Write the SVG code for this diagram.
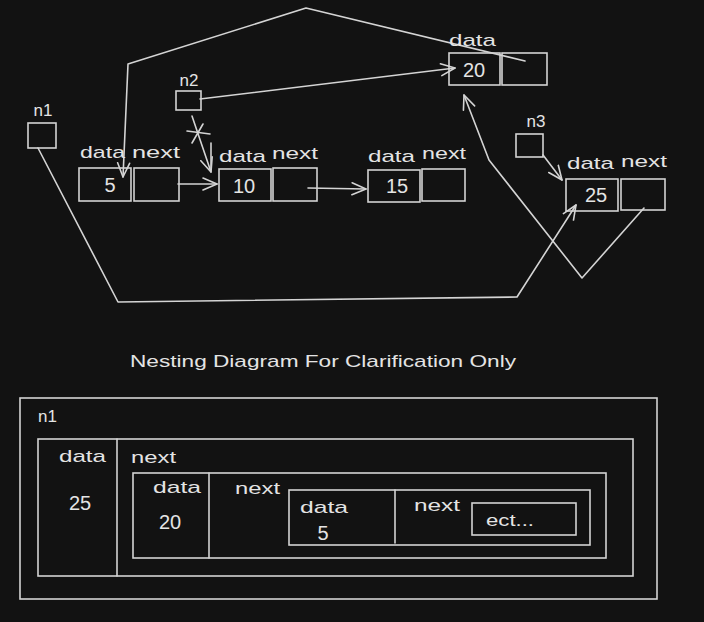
<svg xmlns="http://www.w3.org/2000/svg" width="704" height="622" viewBox="0 0 704 622">
<style>
.bg{fill:#121212}
.box{fill:none;stroke:#d4d4d4;stroke-width:1.6}
.ln{fill:none;stroke:#d4d4d4;stroke-width:1.6;stroke-linejoin:round;stroke-linecap:round}
.t{font-family:"Liberation Sans","DejaVu Sans",sans-serif;font-size:17px;fill:#e4e4e4}
.n{font-family:"Liberation Sans","DejaVu Sans",sans-serif;font-size:17px;fill:#e4e4e4;text-anchor:middle}
.v{font-family:"Liberation Sans","DejaVu Sans",sans-serif;font-size:20px;fill:#e4e4e4;text-anchor:middle}
</style>
<defs>
<marker id="arr" viewBox="0 0 16 16" refX="15" refY="8" markerWidth="16" markerHeight="16" markerUnits="userSpaceOnUse" orient="auto">
<path d="M1,2 L15,8 L1,14" fill="none" stroke="#d4d4d4" stroke-width="1.6" stroke-linecap="round" stroke-linejoin="round"/>
</marker>
</defs>
<rect class="bg" x="0" y="0" width="704" height="622"/>

<g id="connectors">
<line class="ln" x1="178" y1="184" x2="217" y2="184" marker-end="url(#arr)"/>
<line class="ln" x1="308" y1="188" x2="366" y2="189" marker-end="url(#arr)"/>
<line class="ln" x1="200" y1="99" x2="455" y2="68" marker-end="url(#arr)"/>
<line class="ln" x1="192" y1="116" x2="211" y2="172" marker-end="url(#arr)"/>
<line class="ln" x1="211" y1="143" x2="211" y2="170"/>
<line class="ln" x1="187" y1="131" x2="210" y2="134"/>
<line class="ln" x1="192" y1="143" x2="203" y2="124"/>
<polyline class="ln" points="525,61 306,8 128,64 123,177" marker-end="url(#arr)"/>
<polyline class="ln" points="38,148 118,302 517,297 576,205" marker-end="url(#arr)"/>
<polyline class="ln" points="644,208 582,278 489,160 464,95" marker-end="url(#arr)"/>
<line class="ln" x1="543" y1="155" x2="562" y2="180" marker-end="url(#arr)"/>
</g>

<g id="n1">
<rect class="box" x="28" y="123" width="28" height="25"/>
<text class="n" x="43" y="116">n1</text>
</g>
<g id="n2">
<rect class="box" x="176" y="91" width="25" height="19"/>
<text class="n" x="189" y="86">n2</text>
</g>
<g id="n3">
<rect class="box" x="516" y="134" width="27" height="23"/>
<text class="n" x="536" y="127">n3</text>
</g>

<g id="node5">
<text class="t" x="80" y="158" textLength="45" lengthAdjust="spacingAndGlyphs">data</text>
<text class="t" x="132" y="158" textLength="48" lengthAdjust="spacingAndGlyphs">next</text>
<rect class="box" x="79" y="168" width="52" height="33"/>
<rect class="box" x="134" y="168" width="45" height="33"/>
<text class="v" x="110" y="192">5</text>
</g>
<g id="node10">
<text class="t" x="219" y="162" textLength="47" lengthAdjust="spacingAndGlyphs">data</text>
<text class="t" x="272" y="159" textLength="46" lengthAdjust="spacingAndGlyphs">next</text>
<rect class="box" x="219" y="169" width="52" height="32"/>
<rect class="box" x="273" y="168" width="44" height="33"/>
<text class="v" x="244" y="193">10</text>
</g>
<g id="node15">
<text class="t" x="368" y="162" textLength="47" lengthAdjust="spacingAndGlyphs">data</text>
<text class="t" x="422" y="159" textLength="44" lengthAdjust="spacingAndGlyphs">next</text>
<rect class="box" x="368" y="170" width="52" height="32"/>
<rect class="box" x="422" y="169" width="43" height="32"/>
<text class="v" x="397" y="193">15</text>
</g>
<g id="node20">
<text class="t" x="449" y="46" textLength="47" lengthAdjust="spacingAndGlyphs">data</text>
<rect class="box" x="449" y="53" width="51" height="32"/>
<rect class="box" x="502" y="53" width="45" height="32"/>
<text class="v" x="474" y="77">20</text>
</g>
<g id="node25">
<text class="t" x="567" y="169" textLength="47" lengthAdjust="spacingAndGlyphs">data</text>
<text class="t" x="621" y="167" textLength="46" lengthAdjust="spacingAndGlyphs">next</text>
<rect class="box" x="566" y="179" width="52" height="32"/>
<rect class="box" x="621" y="179" width="44" height="31"/>
<text class="v" x="596" y="202">25</text>
</g>

<text id="title" class="t" x="130" y="367" font-size="19" textLength="386" lengthAdjust="spacingAndGlyphs">Nesting Diagram For Clarification Only</text>

<g id="nest-n1">
<rect class="box" x="20" y="398" width="637" height="201"/>
<text class="t" x="38" y="422">n1</text>
</g>
<g id="nest-25">
<rect class="box" x="38" y="439" width="595" height="137"/>
<line class="ln" x1="117" y1="439" x2="117" y2="576"/>
<text class="t" x="59" y="462" textLength="47" lengthAdjust="spacingAndGlyphs">data</text>
<text class="v" x="80" y="510">25</text>
<text class="t" x="131" y="463" textLength="45" lengthAdjust="spacingAndGlyphs">next</text>
</g>
<g id="nest-20">
<rect class="box" x="133" y="473" width="473" height="85"/>
<line class="ln" x1="209" y1="473" x2="209" y2="558"/>
<text class="t" x="153" y="493" textLength="48" lengthAdjust="spacingAndGlyphs">data</text>
<text class="v" x="170" y="529">20</text>
<text class="t" x="235" y="494" textLength="45" lengthAdjust="spacingAndGlyphs">next</text>
</g>
<g id="nest-5">
<rect class="box" x="289" y="490" width="301" height="55"/>
<line class="ln" x1="395" y1="490" x2="395" y2="543"/>
<text class="t" x="300" y="513" textLength="48" lengthAdjust="spacingAndGlyphs">data</text>
<text class="v" x="323" y="540">5</text>
<text class="t" x="414" y="511" textLength="46" lengthAdjust="spacingAndGlyphs">next</text>
</g>
<g id="nest-ect">
<rect class="box" x="472" y="503" width="104" height="32"/>
<text class="t" x="486" y="526" textLength="48" lengthAdjust="spacingAndGlyphs">ect...</text>
</g>
</svg>
